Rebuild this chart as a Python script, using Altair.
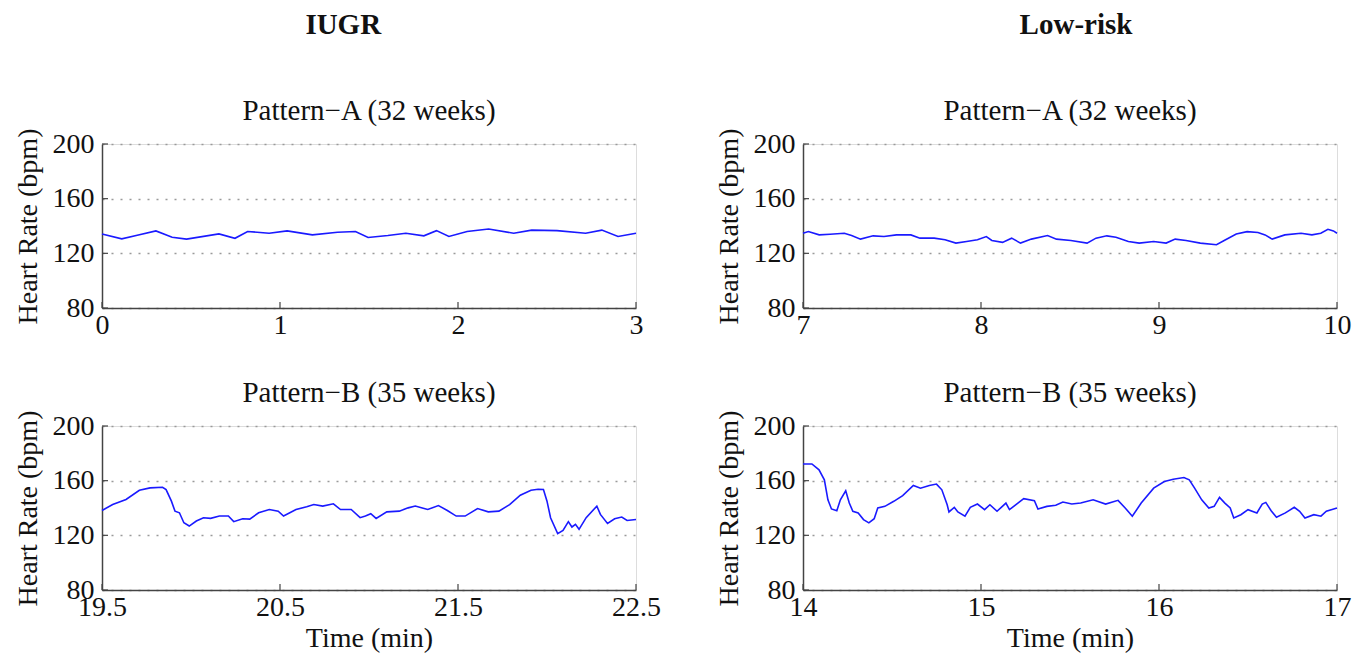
import altair as alt
import pandas as pd

FONT = "Liberation Serif"

# ---------------- data ----------------
iugr_a_t = [0, 0.111, 0.192, 0.303, 0.394, 0.475, 0.657, 0.747, 0.818, 0.939,
            1.040, 1.182, 1.323, 1.424, 1.495, 1.606, 1.707, 1.808, 1.879, 1.949,
            2.051, 2.172, 2.313, 2.414, 2.556, 2.717, 2.808, 2.899, 3.0]
iugr_a_hr = [134.2, 130.6, 133.0, 136.4, 131.8, 130.4, 134.2, 131.0, 136.0, 134.7,
             136.4, 133.5, 135.4, 136.0, 131.6, 133.0, 134.7, 132.8, 136.6, 132.3,
             136.0, 137.8, 134.7, 137.0, 136.6, 134.7, 137.0, 132.3, 134.7]

low_a_t = [7.000, 7.030, 7.091, 7.152, 7.232, 7.273, 7.323, 7.394, 7.455, 7.525,
           7.606, 7.657, 7.737, 7.798, 7.859, 7.919, 7.980, 8.030, 8.061, 8.121,
           8.172, 8.222, 8.283, 8.374, 8.424, 8.505, 8.596, 8.646, 8.707, 8.758,
           8.828, 8.889, 8.970, 9.040, 9.091, 9.152, 9.232, 9.323, 9.374, 9.434,
           9.495, 9.556, 9.596, 9.636, 9.707, 9.798, 9.859, 9.909, 9.949, 9.980, 10.0]
low_a_hr = [134.7, 135.9, 133.5, 134.0, 134.7, 133.0, 130.4, 132.8, 132.3, 133.5,
            133.5, 131.1, 131.1, 129.9, 127.5, 128.7, 129.9, 132.3, 129.4, 128.0,
            131.1, 127.5, 130.4, 133.0, 130.4, 129.4, 127.5, 131.1, 132.8, 131.8,
            128.7, 127.5, 128.7, 127.5, 130.4, 129.4, 127.5, 126.3, 129.9, 134.2,
            135.9, 135.2, 133.5, 130.4, 133.5, 134.7, 133.5, 134.7, 137.6, 136.4, 134.7]

iugr_b_t = [19.5, 19.56, 19.635, 19.71, 19.77, 19.84, 19.86, 19.89, 19.91, 19.935,
            19.96, 19.99, 20.03, 20.07, 20.11, 20.16, 20.21, 20.24, 20.29, 20.33,
            20.38, 20.44, 20.49, 20.52, 20.59, 20.65, 20.69, 20.74, 20.80, 20.84,
            20.90, 20.95, 20.98, 21.01, 21.04, 21.10, 21.17, 21.22, 21.26, 21.33,
            21.39, 21.44, 21.49, 21.54, 21.61, 21.67, 21.73, 21.79, 21.85, 21.91,
            21.95, 21.98, 22.00, 22.02, 22.06, 22.09, 22.12, 22.14, 22.16, 22.18,
            22.22, 22.28, 22.30, 22.34, 22.38, 22.42, 22.45, 22.5]
iugr_b_hr = [138.2, 142.5, 146.2, 153.0, 154.7, 155.2, 153.5, 145.0, 137.7, 136.5,
             129.2, 126.8, 130.5, 132.9, 132.4, 134.1, 134.1, 130.0, 132.1, 131.9,
             136.5, 138.9, 137.7, 134.1, 138.9, 140.9, 142.5, 141.4, 143.1, 138.9,
             138.9, 132.9, 134.1, 135.8, 132.4, 137.2, 137.7, 140.1, 141.4, 138.9,
             141.8, 138.2, 134.1, 134.1, 139.6, 137.2, 137.7, 142.5, 149.4, 153.0,
             153.7, 153.5, 145.0, 132.9, 121.2, 123.6, 130.0, 126.1, 128.0, 124.4,
             132.9, 141.4, 135.3, 128.7, 132.1, 133.4, 130.9, 131.6]

low_b_t = [14.0, 14.05, 14.09, 14.12, 14.14, 14.16, 14.19, 14.21, 14.24, 14.26,
           14.28, 14.31, 14.34, 14.37, 14.40, 14.42, 14.46, 14.51, 14.56, 14.62,
           14.66, 14.71, 14.75, 14.78, 14.81, 14.82, 14.85, 14.87, 14.91, 14.94,
           14.98, 15.02, 15.05, 15.09, 15.14, 15.16, 15.20, 15.24, 15.30, 15.32,
           15.37, 15.42, 15.46, 15.51, 15.56, 15.63, 15.70, 15.77, 15.81, 15.85,
           15.90, 15.97, 16.03, 16.08, 16.14, 16.17, 16.20, 16.24, 16.28, 16.31,
           16.34, 16.37, 16.40, 16.42, 16.46, 16.50, 16.55, 16.58, 16.60, 16.63,
           16.66, 16.71, 16.76, 16.79, 16.82, 16.87, 16.91, 16.94, 17.0]
low_b_hr = [172.2, 172.2, 167.9, 160.6, 146.0, 139.3, 138.0, 146.0, 152.6, 143.6,
            137.6, 136.4, 131.5, 129.1, 132.2, 140.0, 141.2, 144.9, 149.0, 156.5,
            154.5, 156.5, 157.5, 153.3, 142.4, 137.1, 140.5, 137.1, 134.0, 140.5,
            142.9, 138.8, 142.4, 137.6, 143.6, 138.8, 142.9, 146.8, 145.3, 139.3,
            141.2, 142.0, 144.4, 142.9, 143.6, 146.0, 142.9, 145.6, 140.0, 134.0,
            143.6, 154.5, 159.4, 161.1, 162.3, 160.6, 154.5, 146.0, 140.0, 141.2,
            147.8, 143.6, 140.0, 132.7, 135.1, 138.8, 136.4, 142.9, 144.1, 138.0,
            133.2, 136.4, 140.5, 137.6, 132.7, 135.1, 134.0, 137.6, 140.0]

y_ticks = [80, 120, 160, 200]
xticks_iugr_a = [0, 1, 2, 3]
xticks_low_a = [7, 8, 9, 10]
xticks_iugr_b = [19.5, 20.5, 21.5, 22.5]
xticks_low_b = [14, 15, 16, 17]

col_titles = ["IUGR", "Low-risk"]
panel_titles = ["Pattern\u2212A (32 weeks)", "Pattern\u2212B (35 weeks)"]

W, H = 534, 164
FS = 28
TXT = "#111111"
AX = "#444444"


def panel(t, hr, xticks, fmt, title, xtitle):
    df = pd.DataFrame({"t": t, "hr": hr})
    xs = alt.Scale(domain=[xticks[0], xticks[-1]], nice=False, zero=False)
    ys = alt.Scale(domain=[80, 200], nice=False, zero=False)
    xaxis_kw = dict(values=xticks, format=fmt, grid=False, tickSize=0,
                    labelFlush=False, labelPadding=3, titlePadding=3,
                    labelFont=FONT, labelFontSize=FS, titleFont=FONT,
                    titleFontSize=FS, titleFontWeight="normal",
                    domainColor=AX, domainWidth=1.5,
                    labelColor=TXT, titleColor=TXT)
    if xtitle:
        xaxis = alt.Axis(title="Time (min)", **xaxis_kw)
    else:
        xaxis = alt.Axis(title=None, **xaxis_kw)
    yaxis = alt.Axis(values=y_ticks, grid=True, gridDash=[2, 7],
                     gridColor="#9a9a9a", gridWidth=1.5, tickSize=0,
                     labelPadding=8, titlePadding=10, title="Heart Rate (bpm)",
                     labelFont=FONT, labelFontSize=FS, titleFont=FONT,
                     titleFontSize=FS, titleFontWeight="normal",
                     domainColor=AX, domainWidth=1.5,
                     labelColor=TXT, titleColor=TXT)
    line = alt.Chart(df).mark_line(color="#1a1aff", strokeWidth=1.6).encode(
        x=alt.X("t:Q", scale=xs, axis=xaxis),
        y=alt.Y("hr:Q", scale=ys, axis=yaxis),
    )
    xt = alt.Chart(pd.DataFrame({"v": xticks})).mark_rule(
        color=AX, strokeWidth=1.2).encode(
        x=alt.X("v:Q", scale=xs), y=alt.value(H), y2=alt.value(H - 6))
    yt = alt.Chart(pd.DataFrame({"v": y_ticks})).mark_rule(
        color=AX, strokeWidth=1.2).encode(
        y=alt.Y("v:Q", scale=ys), x=alt.value(0), x2=alt.value(6))
    return alt.layer(line, xt, yt).properties(
        width=W, height=H,
        title=alt.TitleParams(title, font=FONT, fontSize=FS + 1,
                              fontWeight="normal", color=TXT, offset=2,
                              anchor="middle"))


def column(ta, ha, xa, fa, tb, hb, xb, fb, name, dx):
    top = panel(ta, ha, xa, fa, panel_titles[0], False)
    bot = panel(tb, hb, xb, fb, panel_titles[1], True)
    return alt.vconcat(top, bot, spacing=118, bounds="flush").properties(
        title=alt.TitleParams(name, font=FONT, fontSize=FS + 1,
                              fontWeight="bold", color=TXT,
                              offset=57, anchor="middle", dx=dx))


left = column(iugr_a_t, iugr_a_hr, xticks_iugr_a, "d",
              iugr_b_t, iugr_b_hr, xticks_iugr_b, ".1f", col_titles[0], 6)
right = column(low_a_t, low_a_hr, xticks_low_a, "d",
               low_b_t, low_b_hr, xticks_low_b, "d", col_titles[1], 43)

chart = alt.hconcat(left, right, spacing=53).properties(
    padding={"left": 5, "top": 2, "right": 0, "bottom": 0}
).configure_view(stroke="transparent", strokeWidth=0).configure(
    background="white")

chart.save("out.html", embed_options={"renderer": "svg", "actions": False})
